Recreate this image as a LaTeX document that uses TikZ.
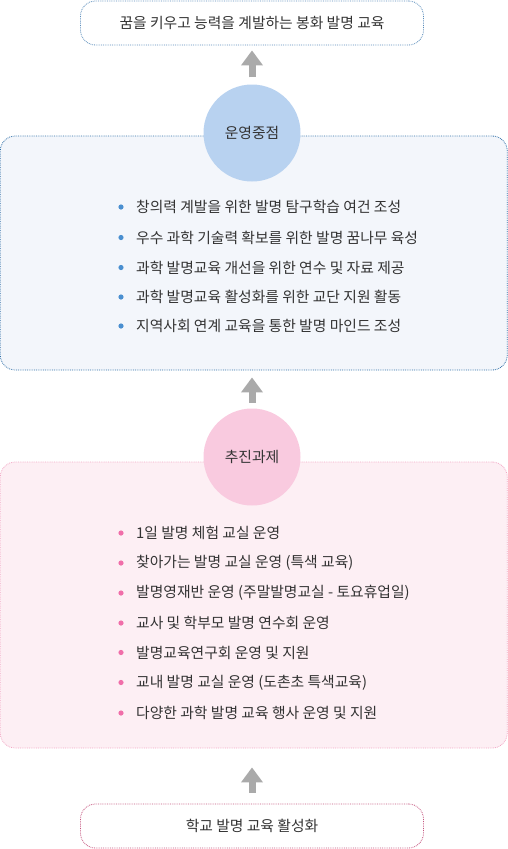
\documentclass[tikz,border=0pt]{standalone}
\usepackage{fontspec}
\setmainfont{Noto Sans CJK KR}
\usetikzlibrary{arrows.meta}

\definecolor{txt}{HTML}{333333}
\definecolor{goalline}{HTML}{5A8CBB}
\definecolor{rootline}{HTML}{C4557F}
\definecolor{bluefill}{HTML}{F3F6FB}
\definecolor{blueline}{HTML}{2F6FA8}
\definecolor{bluecircle}{HTML}{B8D2F0}
\definecolor{bluedot}{HTML}{4A8FD0}
\definecolor{pinkfill}{HTML}{FDEFF4}
\definecolor{pinkline}{HTML}{F2A6C4}
\definecolor{pinkcircle}{HTML}{F9CADF}
\definecolor{pinkdot}{HTML}{F06EA9}
\definecolor{arrowgray}{HTML}{AAAAAA}

\tikzset{
  pill/.style = {draw, densely dotted, line width=.8pt, rounded corners=15pt, minimum width=343pt, minimum height=44pt, text=txt, font=\fontsize{14.8}{17}\selectfont},
  panel/.style = {draw, densely dotted, line width=.8pt, rounded corners=15pt, minimum width=507pt},
  badge/.style = {circle, minimum size=97pt, inner sep=0pt, text=txt, font=\fontsize{14.8}{17}\selectfont},
  item/.style = {anchor=west, inner sep=0pt, text=txt, font=\fontsize{14.8}{17}\selectfont},
  up/.style = {draw=arrowgray, line width=7pt, -{Triangle[length=15pt,width=21pt]}}
}

\begin{document}
\begin{tikzpicture}[x=1pt, y=-1pt]
\useasboundingbox (0,0) rectangle (508,849);

% goal and base
\node[pill, draw=goalline] (goal) at (252,23) {꿈을 키우고 능력을 계발하는 봉화 발명 교육};
\node[pill, draw=rootline] (base) at (252,826) {학교 발명 교육 활성화};

% panels
\node[panel, draw=blueline, fill=bluefill, minimum height=234pt] (focusbox) at (253.75,253) {};
\node[panel, draw=pinkline, fill=pinkfill, minimum height=286pt] (taskbox) at (253.75,605) {};

% badges
\node[badge, fill=bluecircle] (focus) at (252,133) {운영중점};
\node[badge, fill=pinkcircle] (task) at (252,457) {추진과제};

% arrows
\draw[up] ([yshift=7pt]focus.north) -- ([yshift=-5pt]goal.south);
\draw[up] ([yshift=5.5pt]task.north) -- ([yshift=-7pt]focusbox.south -| task.north);
\draw[up] ([yshift=11pt]base.north) -- ([yshift=-19pt]taskbox.south -| base.north);

% focus items
\fill[bluedot] (121,207) circle (2.6pt);
\node[item] (f1) at (136,207) {창의력 계발을 위한 발명 탐구학습 여건 조성};
\fill[bluedot] (121,237.5) circle (2.6pt);
\node[item] (f2) at (136,237.5) {우수 과학 기술력 확보를 위한 발명 꿈나무 육성};
\fill[bluedot] (121,267.5) circle (2.6pt);
\node[item] (f3) at (136,267.5) {과학 발명교육 개선을 위한 연수 및 자료 제공};
\fill[bluedot] (121,297) circle (2.6pt);
\node[item] (f4) at (136,297) {과학 발명교육 활성화를 위한 교단 지원 활동};
\fill[bluedot] (121,326) circle (2.6pt);
\node[item] (f5) at (136,326) {지역사회 연계 교육을 통한 발명 마인드 조성};

% task items
\fill[pinkdot] (121,533) circle (2.6pt);
\node[item] (t1) at (136,533) {1일 발명 체험 교실 운영};
\fill[pinkdot] (121,563) circle (2.6pt);
\node[item] (t2) at (136,563) {찾아가는 발명 교실 운영 (특색 교육)};
\fill[pinkdot] (121,593) circle (2.6pt);
\node[item] (t3) at (136,593) {발명영재반 운영 (주말발명교실 - 토요휴업일)};
\fill[pinkdot] (121,623) circle (2.6pt);
\node[item] (t4) at (136,623) {교사 및 학부모 발명 연수회 운영};
\fill[pinkdot] (121,652.5) circle (2.6pt);
\node[item] (t5) at (136,652.5) {발명교육연구회 운영 및 지원};
\fill[pinkdot] (121,682.5) circle (2.6pt);
\node[item] (t6) at (136,682.5) {교내 발명 교실 운영 (도촌초 특색교육)};
\fill[pinkdot] (121,713) circle (2.6pt);
\node[item] (t7) at (136,713) {다양한 과학 발명 교육 행사 운영 및 지원};
\end{tikzpicture}
\end{document}
